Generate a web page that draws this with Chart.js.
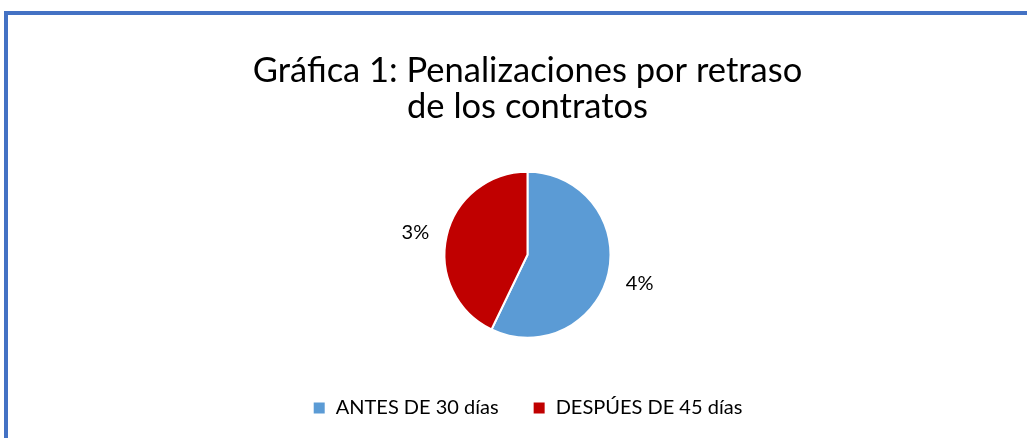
<!DOCTYPE html>
<html>
<head>
<meta charset="utf-8">
<script src="https://cdn.jsdelivr.net/npm/chart.js@4/dist/chart.umd.min.js"></script>
<style>
  html, body { margin: 0; padding: 0; background: #fff; }
  #wrap { position: relative; width: 1027px; height: 438px; overflow: hidden; }
  #frame {
    position: absolute; left: 4px; top: 11px; width: 1040px; height: 440px;
    border-left: 4px solid #4472C4; border-top: 4px solid #4472C4;
  }
  canvas { position: absolute; left: 0; top: 0; }
</style>
</head>
<body>
<div id="wrap">
  <div id="frame"></div>
  <canvas id="c" width="1027" height="438"></canvas>
</div>
<script>
const categories = ["ANTES DE 30 días", "DESPÚES DE 45 días"];
const values = [4, 3];
const colors = ["#5B9BD5", "#C00000"];

// percent labels outside each slice
const sliceLabels = {
  id: "sliceLabels",
  afterDatasetsDraw(chart) {
    const { ctx } = chart;
    const meta = chart.getDatasetMeta(0);
    ctx.save();
    ctx.font = "20px Lato";
    ctx.fillStyle = "#000";
    ctx.textAlign = "center";
    ctx.textBaseline = "middle";
    meta.data.forEach((arc, i) => {
      const mid = (arc.startAngle + arc.endAngle) / 2;
      const d = arc.outerRadius + 32;
      ctx.fillText(values[i] + "%", arc.x + Math.cos(mid) * d, arc.y + Math.sin(mid) * d + 3);
    });
    ctx.restore();
  }
};

new Chart(document.getElementById("c"), {
  type: "pie",
  data: {
    labels: categories,
    datasets: [{
      data: values,
      backgroundColor: colors,
      borderColor: "#fff",
      borderWidth: 2,
      radius: 83
    }]
  },
  options: {
    responsive: false,
    animation: false,
    layout: { padding: { left: 28, bottom: 10 } },
    plugins: {
      title: {
        display: true,
        text: ["Gráfica 1: Penalizaciones por retraso", "de los contratos"],
        color: "#000",
        font: { family: "Lato", size: 34.5, weight: "normal", lineHeight: 1.05 },
        padding: { top: 53, bottom: 20 }
      },
      legend: {
        position: "bottom",
        labels: {
          color: "#000",
          font: { family: "Lato", size: 20 },
          boxWidth: 13,
          boxHeight: 13,
          padding: 34
        }
      },
      tooltip: { enabled: false }
    }
  },
  plugins: [sliceLabels]
});
</script>
</body>
</html>
